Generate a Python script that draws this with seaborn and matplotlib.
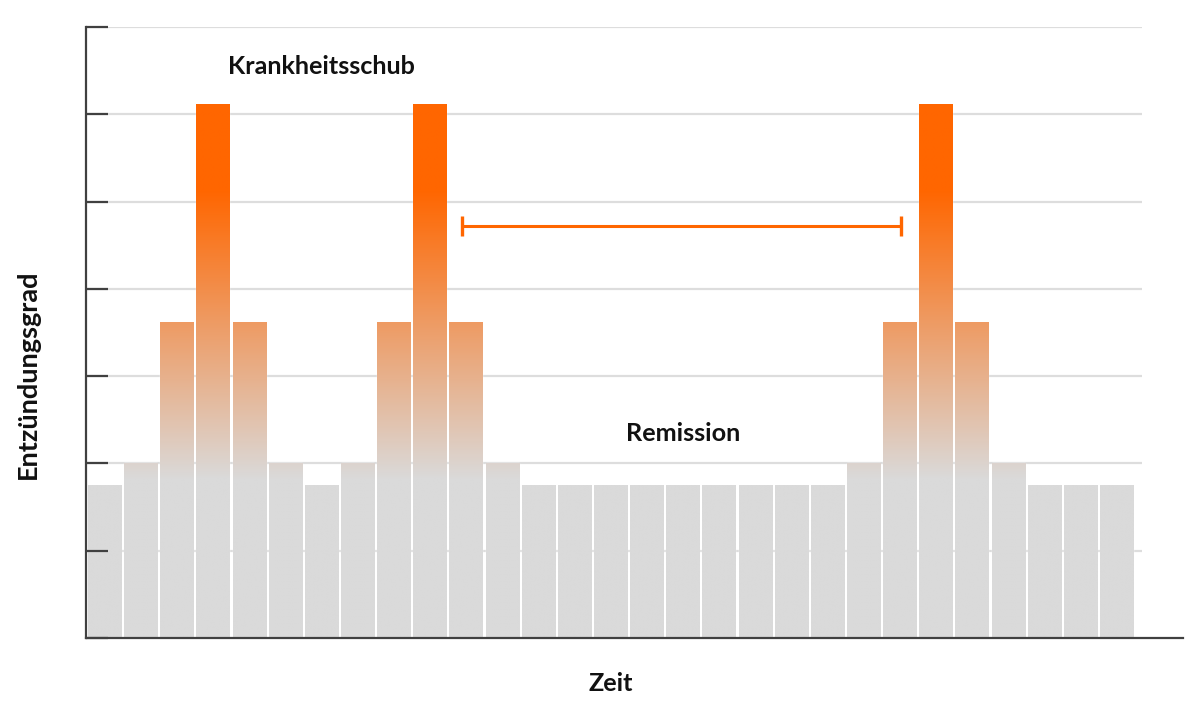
import numpy as np
import pandas as pd
import seaborn as sns
import matplotlib.pyplot as plt
from matplotlib.colors import LinearSegmentedColormap, Normalize

# inflammation level per time step
zeit = list(range(29))
grad = [1.75, 2.0, 3.62, 6.12, 3.62, 2.0, 1.75,
        2.0, 3.62, 6.12, 3.62, 2.0,
        1.75, 1.75, 1.75, 1.75, 1.75, 1.75, 1.75, 1.75, 1.75,
        2.0, 3.62, 6.12, 3.62, 2.0,
        1.75, 1.75, 1.75]

# remission span and labels
remission_von = 9.9
remission_bis = 22.04
remission_hoehe = 4.72
schub_label = ("Krankheitsschub", 6, 6.46)
remission_label = ("Remission", 16, 2.26)

GREY = "#dadada"
ORANGE = "#ff6600"
DARK = "#404040"

sns.set_style("white")
plt.rcParams["font.family"] = ["Lato", "DejaVu Sans"]

df = pd.DataFrame({"zeit": zeit, "grad": grad})

fig = plt.figure(figsize=(12, 7.08), dpi=100)
ax = fig.add_axes([86 / 1200, 70 / 708, 1097 / 1200, 611 / 708])

sns.barplot(data=df, x="zeit", y="grad", color=GREY, width=0.915,
            saturation=1, ax=ax, zorder=2)

# vertical gradient grey -> orange, same for every bar
cmap = LinearSegmentedColormap.from_list("entz", [GREY, ORANGE])
norm = Normalize(vmin=1.81, vmax=5.13, clip=True)
for p in ax.patches:
    x0, w, h = p.get_x(), p.get_width(), p.get_height()
    ys = np.linspace(0, h, 300).reshape(-1, 1)
    im = ax.imshow(ys, extent=(x0, x0 + w, 0, h), origin="lower",
                   aspect="auto", cmap=cmap, norm=norm, zorder=2.5,
                   interpolation="bilinear")
    im.set_clip_path(p)

ax.set_xlim(-0.512, 29.84)
ax.set_ylim(0, 7)
ax.set_aspect("auto")

# gridlines stop short of the x-axis end; ticks sit on top of the bars
ax.hlines(range(1, 8), -0.512, 28.71, color="#dddddd", lw=1.6, zorder=0.3)
ax.yaxis.set_zorder(5)

# remission span
ax.plot([remission_von, remission_bis], [remission_hoehe] * 2,
        color=ORANGE, lw=2.2, marker="|", ms=14.5, mew=2.4, zorder=4)

ax.text(schub_label[1], schub_label[2], schub_label[0], ha="center",
        va="baseline", fontsize=18.1, fontweight="bold", color="#111111")
ax.text(remission_label[1], remission_label[2], remission_label[0],
        ha="center", va="baseline", fontsize=18.2, fontweight="bold",
        color="#111111")

ax.set_xticks([])
ax.set_yticks(range(0, 8))
ax.set_yticklabels([])
ax.tick_params(axis="y", direction="in", length=15.8, width=1.6,
               color=DARK, left=True)

for s in ["top", "right"]:
    ax.spines[s].set_visible(False)
for s in ["left", "bottom"]:
    ax.spines[s].set_color(DARK)
    ax.spines[s].set_linewidth(1.6)
    ax.spines[s].set_zorder(5)

ax.set_xlabel("Zeit", fontsize=18.2, fontweight="bold", va="center",
              color="#111111")
ax.set_ylabel("Entzündungsgrad", fontsize=19.5, fontweight="bold",
              va="center", color="#111111")
ax.xaxis.set_label_coords(0.4786, -0.0737)
ax.yaxis.set_label_coords(-0.0529, 0.432)

fig.savefig("out.png", dpi=100)
